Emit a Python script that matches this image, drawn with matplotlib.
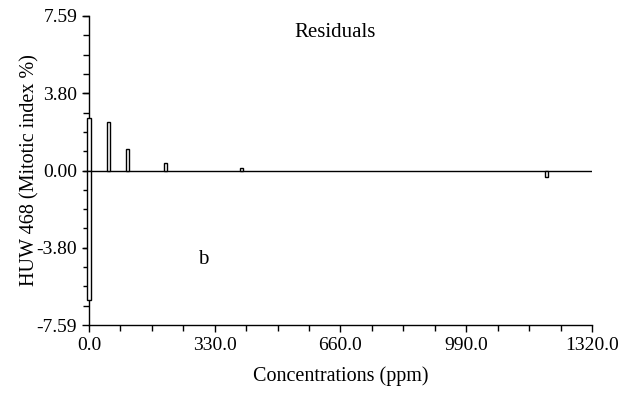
import matplotlib
matplotlib.use("Agg")
import matplotlib.pyplot as plt
from matplotlib.ticker import MultipleLocator, FixedLocator

plt.rcParams['font.family'] = ['Liberation Serif', 'DejaVu Serif']

# Data: residuals by concentration
concentrations = [0, 0, 50, 100, 200, 400, 1200]
residuals = [2.59, -6.34, 2.37, 1.07, 0.38, 0.13, -0.33]

x_ticks = [0.0, 330.0, 660.0, 990.0, 1320.0]
y_ticks = [-7.59, -3.80, 0.00, 3.80, 7.59]
y_tick_labels = ["-7.59", "-3.80", "0.00", "3.80", "7.59"]

fig = plt.figure(figsize=(6.32, 3.94), dpi=100)
ax = fig.add_axes([0.1408, 0.1751, 0.7959, 0.7843])

bars = ax.bar(concentrations, residuals, width=8, facecolor='white',
              edgecolor='black', linewidth=1.0, zorder=3)
for b in bars:
    b.set_clip_on(False)
ax.axhline(0, color='black', linewidth=1.0, zorder=2)

ax.set_xlim(0, 1320)
ax.set_ylim(-7.59, 7.59)

ax.spines['top'].set_visible(False)
ax.spines['right'].set_visible(False)
ax.spines['left'].set_linewidth(1.0)
ax.spines['bottom'].set_linewidth(1.0)

ax.set_xticks(x_ticks)
ax.set_xticklabels([f"{v:.1f}" for v in x_ticks])
ax.set_yticks(y_ticks)
ax.set_yticklabels(y_tick_labels)
ax.xaxis.set_minor_locator(MultipleLocator(82.5))
ax.yaxis.set_minor_locator(FixedLocator([-7.59 + i * 0.9487 for i in range(17)]))

ax.tick_params(axis='both', which='major', direction='out', length=5, width=1,
               labelsize=14, colors='black')
ax.tick_params(axis='both', which='minor', direction='out', length=4, width=1)

ax.set_xlabel("Concentrations (ppm)", fontsize=14.5, labelpad=9)
ax.set_ylabel("HUW 468 (Mitotic index %)", fontsize=14.5, labelpad=-2)

ax.text(0.49, 0.945, "Residuals", transform=ax.transAxes, fontsize=15,
        ha='center', va='center')
ax.text(299, -4.37, "b", fontsize=15, ha='center', va='center')

fig.savefig("out.png", dpi=100)
